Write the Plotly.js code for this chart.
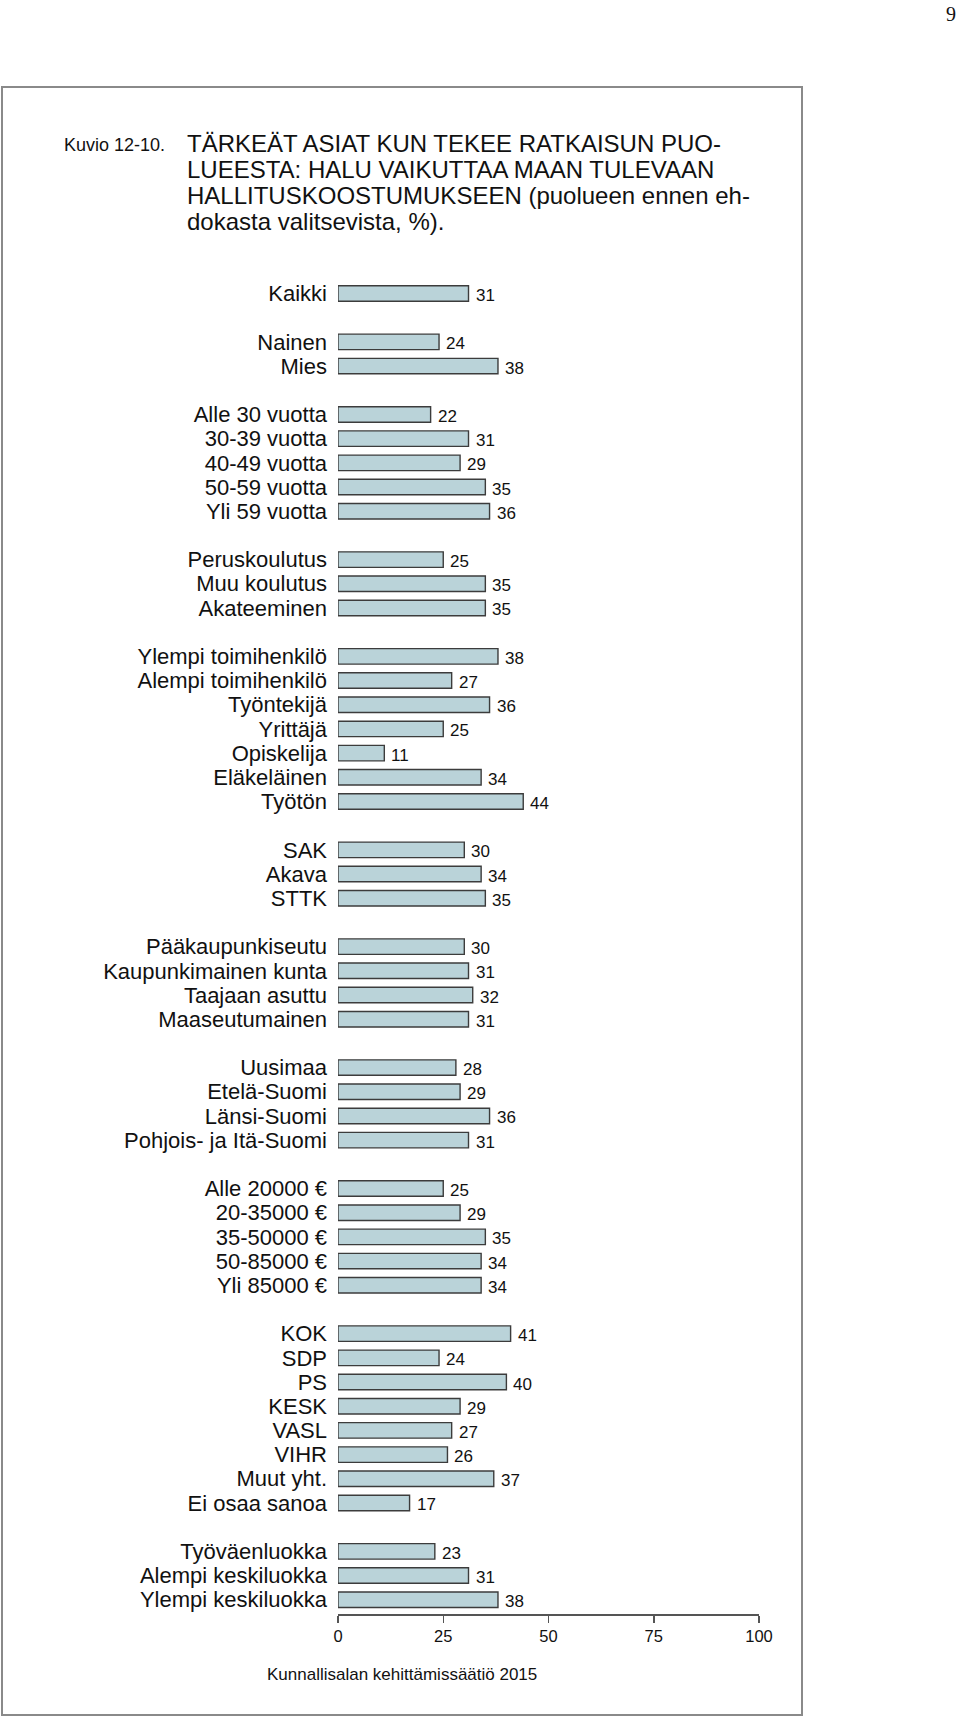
<!DOCTYPE html>
<html>
<head>
<meta charset="utf-8">
<script src="https://cdn.plot.ly/plotly-3.0.1.min.js"></script>
<style>
  html, body { margin: 0; padding: 0; background: #fff; }
  #chart { width: 960px; height: 1718px; }
</style>
</head>
<body>
<div id="chart"></div>
<script>
// ---- Data (empty category = gap between groups) ----
const categories = [
  "Kaikki", "",
  "Nainen", "Mies", "",
  "Alle 30 vuotta", "30-39 vuotta", "40-49 vuotta", "50-59 vuotta", "Yli 59 vuotta", "",
  "Peruskoulutus", "Muu koulutus", "Akateeminen", "",
  "Ylempi toimihenkilö", "Alempi toimihenkilö", "Työntekijä", "Yrittäjä", "Opiskelija", "Eläkeläinen", "Työtön", "",
  "SAK", "Akava", "STTK", "",
  "Pääkaupunkiseutu", "Kaupunkimainen kunta", "Taajaan asuttu", "Maaseutumainen", "",
  "Uusimaa", "Etelä-Suomi", "Länsi-Suomi", "Pohjois- ja Itä-Suomi", "",
  "Alle 20000 €", "20-35000 €", "35-50000 €", "50-85000 €", "Yli 85000 €", "",
  "KOK", "SDP", "PS", "KESK", "VASL", "VIHR", "Muut yht.", "Ei osaa sanoa", "",
  "Työväenluokka", "Alempi keskiluokka", "Ylempi keskiluokka"
];
const values = [
  31, null,
  24, 38, null,
  22, 31, 29, 35, 36, null,
  25, 35, 35, null,
  38, 27, 36, 25, 11, 34, 44, null,
  30, 34, 35, null,
  30, 31, 32, 31, null,
  28, 29, 36, 31, null,
  25, 29, 35, 34, 34, null,
  41, 24, 40, 29, 27, 26, 37, 17, null,
  23, 31, 38
];
const xTickValues = [0, 25, 50, 75, 100];
const titleLines = [
  "TÄRKEÄT ASIAT KUN TEKEE RATKAISUN PUO-",
  "LUEESTA: HALU VAIKUTTAA MAAN TULEVAAN",
  "HALLITUSKOOSTUMUKSEEN (puolueen ennen eh-",
  "dokasta valitsevista, %)."
];
const figureLabel = "Kuvio 12-10.";
const sourceText = "Kunnallisalan kehittämissäätiö 2015";
const pageNumber = "9";

// ---- Layout geometry ----
const W = 960, H = 1718;
const M = { l: 338, r: 201, t: 279, b: 104 };
const PW = W - M.l - M.r, PH = H - M.t - M.b;
const px2x = px => (px - M.l) / PW;
const py2y = py => (H - M.b - py) / PH;

const FONT = "Liberation Sans, Arial, Helvetica, sans-serif";

const slots = categories.map((c, i) => i);
const tickvals = slots.filter(i => categories[i] !== "");
const ticktext = tickvals.map(i => categories[i]);

const barTrace = {
  type: "bar",
  orientation: "h",
  x: values,
  y: slots,
  width: 0.64,
  marker: { color: "#bad3d9", line: { color: "#3c3c3c", width: 1.4 } },
  hoverinfo: "skip"
};

const annotations = [];
slots.forEach(i => {
  if (values[i] === null) return;
  annotations.push({
    x: values[i], y: i, xref: "x", yref: "y",
    text: String(values[i]), showarrow: false,
    xanchor: "left", yanchor: "middle", xshift: 5, yshift: -2,
    font: { family: FONT, size: 17, color: "#111" }
  });
});

// Title
annotations.push({
  x: px2x(62), y: py2y(145), xref: "paper", yref: "paper",
  text: figureLabel, showarrow: false, xanchor: "left", yanchor: "middle",
  font: { family: FONT, size: 18, color: "#111" }
});
titleLines.forEach((t, k) => {
  annotations.push({
    x: px2x(185), y: py2y(144 + k * 25.85), xref: "paper", yref: "paper",
    text: t, showarrow: false, xanchor: "left", yanchor: "middle",
    font: { family: FONT, size: 24, color: "#111" }
  });
});
// Source
annotations.push({
  x: px2x(402), y: py2y(1674), xref: "paper", yref: "paper",
  text: sourceText, showarrow: false, xanchor: "center", yanchor: "middle",
  font: { family: FONT, size: 17, color: "#111" }
});
// Page number
annotations.push({
  x: px2x(951), y: py2y(14), xref: "paper", yref: "paper",
  text: pageNumber, showarrow: false, xanchor: "center", yanchor: "middle",
  font: { family: "Liberation Serif, Times New Roman, serif", size: 20, color: "#111" }
});

const layout = {
  width: W, height: H,
  margin: M,
  paper_bgcolor: "#fff", plot_bgcolor: "#fff",
  showlegend: false,
  xaxis: {
    range: [0, 100],
    tickvals: xTickValues,
    ticktext: xTickValues.map(String),
    showline: true, linecolor: "#555", linewidth: 1.5,
    ticks: "outside", ticklen: 7, tickwidth: 1.5, tickcolor: "#555",
    showgrid: false, zeroline: false,
    tickfont: { family: FONT, size: 16.5, color: "#111" },
    fixedrange: true
  },
  yaxis: {
    range: [categories.length - 1 + 0.59, -0.6],
    tickvals: tickvals, ticktext: ticktext,
    ticks: "", showline: false, showgrid: false, zeroline: false,
    ticklabelstandoff: 10,
    tickfont: { family: FONT, size: 22, color: "#111" },
    fixedrange: true
  },
  shapes: [{
    type: "rect", xref: "paper", yref: "paper",
    x0: px2x(2), x1: px2x(802), y0: py2y(1715), y1: py2y(87),
    line: { color: "#8a8a8a", width: 2 }, fillcolor: "rgba(0,0,0,0)", layer: "below"
  }],
  annotations: annotations
};

Plotly.newPlot("chart", [barTrace], layout, { staticPlot: true, displayModeBar: false });
</script>
</body>
</html>
